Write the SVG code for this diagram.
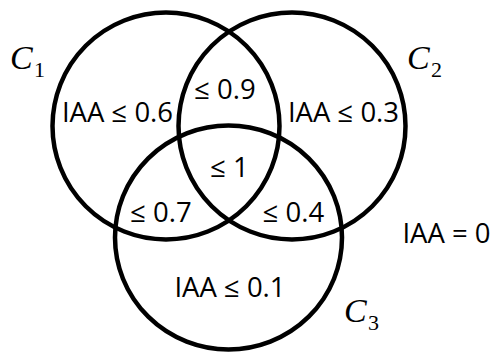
<svg xmlns="http://www.w3.org/2000/svg" width="493" height="352" viewBox="0 0 493 352">
  <style>
    .set { fill: none; stroke: #000; stroke-width: 4.5; }
    .lbl { font-family: "Open Sans", "Liberation Sans", sans-serif; font-size: 27.5px; fill: #000; text-anchor: middle; }
    .cname { font-family: "Liberation Serif", "DejaVu Serif", serif; font-style: italic; font-size: 34px; fill: #000; }
    .csub { font-family: "Liberation Serif", "DejaVu Serif", serif; font-style: normal; font-size: 22px; fill: #000; }
  </style>
  <rect width="493" height="352" fill="#fff"/>
  <g id="set-c1">
    <circle class="set" cx="166" cy="126" r="113.5"/>
    <text class="cname" x="10" y="69">C</text>
    <text class="csub" x="34" y="77">1</text>
  </g>
  <g id="set-c2">
    <circle class="set" cx="292" cy="126" r="113.5"/>
    <text class="cname" x="407" y="69">C</text>
    <text class="csub" x="431" y="77">2</text>
  </g>
  <g id="set-c3">
    <ellipse class="set" cx="228.5" cy="237.5" rx="113.5" ry="112"/>
    <text class="cname" x="344" y="322">C</text>
    <text class="csub" x="368" y="330">3</text>
  </g>
  <g id="region-c1-only"><text class="lbl" x="117.5" y="122">IAA ≤ 0.6</text></g>
  <g id="region-c1-c2"><text class="lbl" x="225" y="99">≤ 0.9</text></g>
  <g id="region-c2-only"><text class="lbl" x="343.5" y="122">IAA ≤ 0.3</text></g>
  <g id="region-all"><text class="lbl" x="229.5" y="177">≤ 1</text></g>
  <g id="region-c1-c3"><text class="lbl" x="161" y="222">≤ 0.7</text></g>
  <g id="region-c2-c3"><text class="lbl" x="293.5" y="222">≤ 0.4</text></g>
  <g id="region-c3-only"><text class="lbl" x="230" y="297">IAA ≤ 0.1</text></g>
  <g id="region-outside"><text class="lbl" x="446.5" y="243">IAA = 0</text></g>
</svg>
